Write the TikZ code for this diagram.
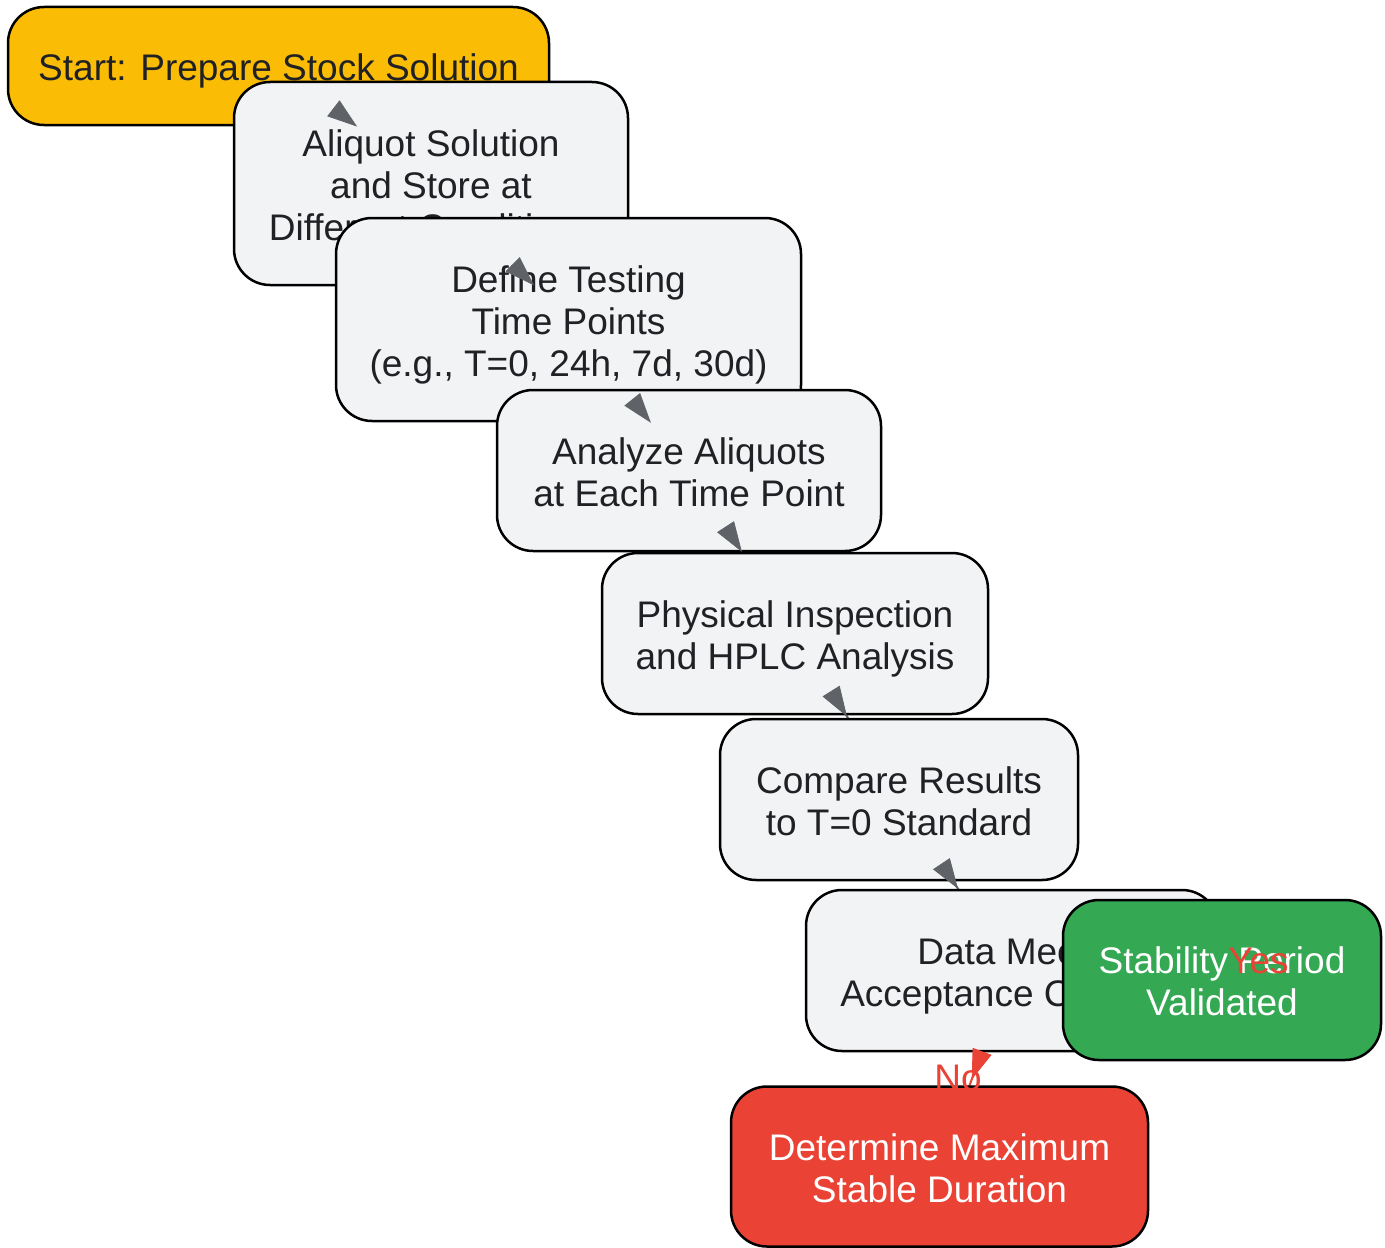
\documentclass[tikz,border=0pt]{standalone}
\usepackage{fontspec}
\setmainfont{Liberation Sans}
\usetikzlibrary{arrows.meta,decorations.markings,backgrounds}
\definecolor{gyellow}{HTML}{FBBC05}
\definecolor{ggray}{HTML}{F1F3F4}
\definecolor{ggreen}{HTML}{34A853}
\definecolor{gred}{HTML}{EA4335}
\definecolor{gedge}{HTML}{5F6368}
\definecolor{gtext}{HTML}{202124}
\newcommand\fs{\rule{0pt}{19pt}}
\newcommand\botstrut{\rule[-4.5pt]{0pt}{4.5pt}}
\tikzset{
  box/.style={draw=black, line width=1.25pt, rounded corners=18pt, align=center,
    text=gtext, inner sep=0pt, font=\fontsize{18.5}{21}\selectfont,
    execute at end node=\botstrut},
  stepbox/.style={box, fill=ggray, minimum height=80.5pt},
  link/.style={draw=#1, line width=1pt},
  headat/.style 2 args={decoration={markings,
    mark=at position #1 with {\arrow{Triangle[color=#2,length=15pt,width=10pt]}}},
    postaction={decorate}},
  lbl/.style={text=gred, inner sep=0pt, font=\fontsize{18.5}{21}\selectfont},
}
\begin{document}
\begin{tikzpicture}[x=0.5pt, y=-0.5pt]
\useasboundingbox (0,0) rectangle (1385,1247);
\node (start) [box, fill=gyellow, minimum width=270.5pt, minimum height=59pt] at (278.5,66) {\fs Start: Prepare Stock Solution};
\node (aliquot) [stepbox, minimum width=197pt, minimum height=101.5pt] at (431,183.5) {\fs Aliquot Solution\\and Store at\\Different Conditions};
\node (define) [stepbox, minimum width=232.5pt, minimum height=101.5pt] at (568.5,319.5) {\fs Define Testing\\Time Points\\(e.g., T=0, 24h, 7d, 30d)};
\node (analyze) [stepbox, minimum width=192pt] at (689,470.5) {\fs Analyze Aliquots\\at Each Time Point};
\node (physical) [stepbox, minimum width=193pt] at (795,633.5) {\fs Physical Inspection\\and HPLC Analysis};
\node (compare) [stepbox, minimum width=179pt] at (899,799.5) {\fs Compare Results\\to T=0 Standard};
\node (data) [stepbox, minimum width=206pt] at (1012,970.5) {\fs Data Meets\\Acceptance Criteria?};
\node (stable) [box, fill=ggreen, text=white, minimum width=159pt, minimum height=80pt] at (1222,980) {\fs Stability Period\\Validated};
\node (maxdur) [box, fill=gred, text=white, minimum width=208.5pt, minimum height=80pt] at (939.5,1166.5) {\fs Determine Maximum\\Stable Duration};
\begin{scope}[on background layer]
\draw [link=gedge] (start.center) -- (aliquot.center);
\draw [link=gedge] (aliquot.center) -- (define.center);
\draw [link=gedge] (define.center) -- (analyze.center);
\draw [link=gedge] (analyze.center) -- (physical.center);
\draw [link=gedge] (physical.center) -- (compare.center);
\draw [link=gedge] (compare.center) -- (data.center);
\draw [link=gred] (data.center) -- (stable.center);
\draw [link=gred] (data.center) -- (maxdur.center);
\end{scope}
\path [headat={0.516}{gedge}] (start.center) -- (aliquot.center);
\path [headat={0.75}{gedge}] (aliquot.center) -- (define.center);
\path [headat={0.685}{gedge}] (define.center) -- (analyze.center);
\path [headat={0.5}{gedge}] (analyze.center) -- (physical.center);
\path [headat={0.5}{gedge}] (physical.center) -- (compare.center);
\path [headat={0.523}{gedge}] (compare.center) -- (data.center);
\path [headat={0.556}{gred}] (data.center) -- (maxdur.center);
\node (yes) [lbl] at (1258.5,961) {Yes};
\node (no) [lbl] at (958,1078) {No};
\end{tikzpicture}
\end{document}
